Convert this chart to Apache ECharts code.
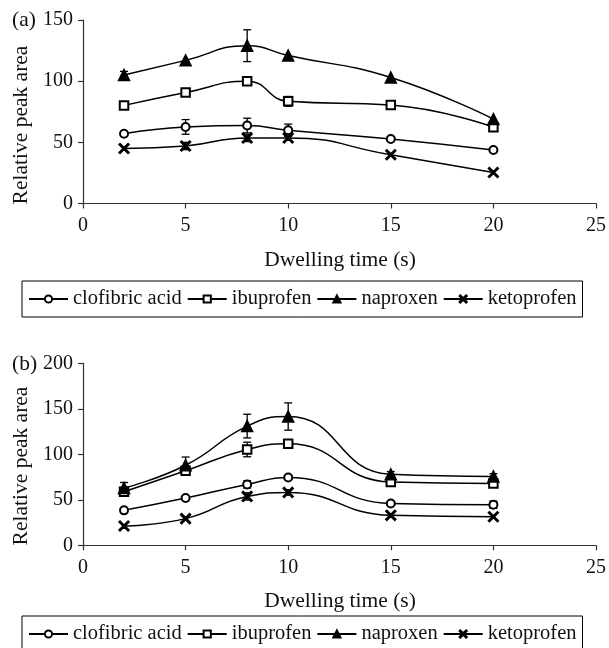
<!DOCTYPE html>
<html>
<head>
<meta charset="utf-8">
<script src="https://cdn.jsdelivr.net/npm/echarts@6/dist/echarts.min.js"></script>
<style>
  html, body { margin: 0; padding: 0; background: #fff; }
  #main { width: 609px; height: 648px; }
</style>
</head>
<body>
<div id="main"></div>
<script>
// dwelling time (s)
const xs = [2, 5, 8, 10, 15, 20]
const names = ['clofibric acid', 'ibuprofen', 'naproxen', 'ketoprofen']

// panel (a)
const aClofibric = [57, 62.6, 63.7, 59.9, 52.7, 43.7]
const aClofibricErr = [0, 6, 6, 5, 0, 0]
const aIbuprofen = [80.2, 90.7, 100, 83.5, 80.5, 62.4]
const aIbuprofenErr = [2, 2, 3, 4, 2, 2]
const aNaproxen = [105, 117, 129, 121, 103, 69]
const aNaproxenErr = [3, 0, 13, 0, 0, 0]
const aKetoprofen = [45, 47, 53.6, 53.6, 39.8, 25.3]
const aKetoprofenErr = [0, 3, 3, 0, 0, 0]

// panel (b)
const bClofibric = [38.4, 51.9, 66.9, 74.6, 46, 44.6]
const bClofibricErr = [0, 0, 4, 0, 0, 4]
const bIbuprofen = [58.9, 81.9, 105.3, 111.5, 69.5, 68]
const bIbuprofenErr = [3, 4, 8, 2, 4, 4]
const bNaproxen = [63, 88, 131, 141.5, 78, 75.7]
const bNaproxenErr = [6, 9, 13, 15, 3, 3]
const bKetoprofen = [21.2, 29.3, 53.7, 58.1, 32.9, 31.4]
const bKetoprofenErr = [0, 0, 4, 3, 0, 0]

const font = "'Liberation Serif', 'Times New Roman', serif"
const ink = '#111'
const crossPath = 'path://M0,1L1,0L5,4L9,0L10,1L6,5L10,9L9,10L5,6L1,10L0,9L4,5Z'
const symbols = ['emptyCircle', 'emptyRect', 'triangle', crossPath]
const symbolSizes = [8, 8.5, 11, 10]

function lineSeries (idx, values, name, panel) {
  return {
    name: name,
    type: 'line',
    xAxisIndex: panel,
    yAxisIndex: panel,
    data: xs.map((x, i) => [x, values[i]]),
    smooth: 0.5,
    symbol: symbols[idx],
    symbolSize: symbolSizes[idx],
    color: '#000',
    lineStyle: { color: '#000', width: 1.5 },
    itemStyle: { color: '#000', borderColor: '#000', borderWidth: 1.5 },
    z: 3
  }
}

function errSeries (values, errs, panel) {
  return {
    type: 'custom',
    xAxisIndex: panel,
    yAxisIndex: panel,
    data: xs.map((x, i) => [x, values[i], errs[i]]).filter(d => d[2] > 0),
    z: 2,
    silent: true,
    renderItem: function (params, api) {
      const x = api.value(0)
      const v = api.value(1)
      const e = api.value(2)
      const top = api.coord([x, v + e])
      const bot = api.coord([x, v - e])
      const w = 4
      const style = { stroke: '#000', lineWidth: 1.3 }
      return {
        type: 'group',
        children: [
          { type: 'line', shape: { x1: top[0], y1: top[1], x2: bot[0], y2: bot[1] }, style: style },
          { type: 'line', shape: { x1: top[0] - w, y1: top[1], x2: top[0] + w, y2: top[1] }, style: style },
          { type: 'line', shape: { x1: bot[0] - w, y1: bot[1], x2: bot[0] + w, y2: bot[1] }, style: style }
        ]
      }
    }
  }
}

function xAxis (panel) {
  return {
    type: 'value',
    gridIndex: panel,
    min: 0,
    max: 25,
    interval: 5,
    splitLine: { show: false },
    axisLine: { lineStyle: { color: '#333', width: 1.2 } },
    axisTick: { length: 5, lineStyle: { color: '#333', width: 1.2 } },
    axisLabel: { color: ink, fontFamily: font, fontSize: 20, margin: 12 }
  }
}

function yAxis (panel, max) {
  return {
    type: 'value',
    gridIndex: panel,
    min: 0,
    max: max,
    interval: 50,
    splitLine: { show: false },
    axisLine: { show: true, lineStyle: { color: '#333', width: 1.2 } },
    axisTick: { show: true, length: 5, lineStyle: { color: '#333', width: 1.2 } },
    axisLabel: { color: ink, fontFamily: font, fontSize: 20, margin: 10 }
  }
}

function legend (top) {
  return {
    data: names,
    left: 22,
    top: top,
    itemWidth: 39,
    itemHeight: 9,
    itemGap: 5,
    padding: [7, 6, 7, 6],
    borderColor: '#000',
    borderWidth: 1,
    selectedMode: false,
    textStyle: { color: ink, fontFamily: font, fontSize: 20.5, lineHeight: 22 }
  }
}

function label (text, x, y, rotate) {
  return {
    type: 'text',
    x: x,
    y: y,
    rotation: rotate ? Math.PI / 2 : 0,
    style: {
      text: text,
      fill: ink,
      font: '21.5px ' + font,
      textAlign: rotate ? 'center' : 'left',
      textVerticalAlign: 'middle'
    }
  }
}

const chart = echarts.init(document.getElementById('main'))
chart.setOption({
  backgroundColor: '#fff',
  animation: false,
  grid: [
    { left: 83, right: 9, top: 20, height: 183.5 },
    { left: 83, right: 9, top: 363.3, height: 182 }
  ],
  xAxis: [xAxis(0), xAxis(1)],
  yAxis: [yAxis(0, 150), yAxis(1, 200)],
  legend: [legend(281), legend(616)],
  graphic: [
    label('(a)', 12, 20, false),
    label('(b)', 12, 364, false),
    label('Relative peak area', 21, 125, true),
    label('Relative peak area', 21, 466, true),
    { type: 'text', x: 340, y: 260, style: { text: 'Dwelling time (s)', fill: ink, font: '21.5px ' + font, textAlign: 'center', textVerticalAlign: 'middle' } },
    { type: 'text', x: 340, y: 601.5, style: { text: 'Dwelling time (s)', fill: ink, font: '21.5px ' + font, textAlign: 'center', textVerticalAlign: 'middle' } }
  ],
  series: [
    errSeries(aClofibric, aClofibricErr, 0),
    errSeries(aIbuprofen, aIbuprofenErr, 0),
    errSeries(aNaproxen, aNaproxenErr, 0),
    errSeries(aKetoprofen, aKetoprofenErr, 0),
    lineSeries(0, aClofibric, names[0], 0),
    lineSeries(1, aIbuprofen, names[1], 0),
    lineSeries(2, aNaproxen, names[2], 0),
    lineSeries(3, aKetoprofen, names[3], 0),
    errSeries(bClofibric, bClofibricErr, 1),
    errSeries(bIbuprofen, bIbuprofenErr, 1),
    errSeries(bNaproxen, bNaproxenErr, 1),
    errSeries(bKetoprofen, bKetoprofenErr, 1),
    lineSeries(0, bClofibric, names[0], 1),
    lineSeries(1, bIbuprofen, names[1], 1),
    lineSeries(2, bNaproxen, names[2], 1),
    lineSeries(3, bKetoprofen, names[3], 1)
  ]
})
</script>
</body>
</html>
